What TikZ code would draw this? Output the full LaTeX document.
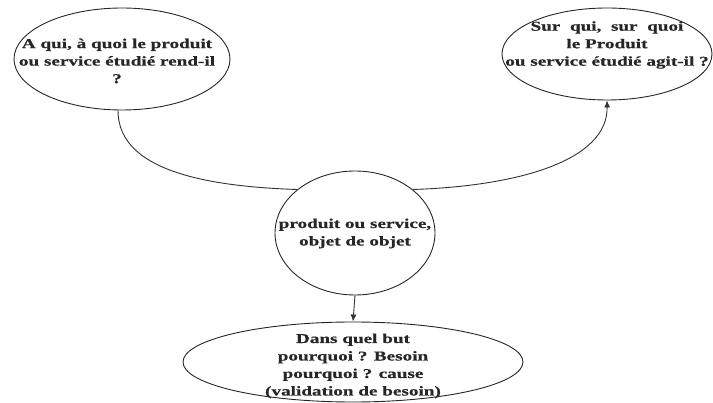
\documentclass[tikz,border=0pt]{standalone}
\usepackage{fontspec}
\setmainfont{Liberation Serif}
\newfontfamily\widebold[FakeStretch=1.42,FakeBold=0.6]{Liberation Serif Bold}
\usetikzlibrary{shapes.geometric,arrows.meta}
\begin{document}
\begin{tikzpicture}[x=1pt,y=-1pt,
  bubble/.style={draw=black!85, line width=0.9pt, ellipse, inner sep=0pt},
  lbl/.style={align=center, font=\fontsize{13.5}{17.5}\widebold, text=black!85, inner sep=0pt},
  conn/.style={draw=black!80, line width=0.9pt},
  tip/.style={-{Latex[length=7pt,width=6pt]}}]
\useasboundingbox (0,0) rectangle (713,403);
\node[bubble, minimum width=216pt, minimum height=102pt] (L) at (122,59) {};
\node[lbl] (Lt) at (117,61) {A qui, à quoi le produit\\ou service étudié rend-il\\?};
\node[bubble, minimum width=210pt, minimum height=92pt] (R) at (607,54) {};
\node[lbl] (Rt) at (607,45) {Sur\ \ qui,\ \ sur\ \ quoi\\le Produit\\ou service étudié agit-il ?};
\node[bubble, minimum width=160pt, minimum height=124pt] (C) at (355,233) {};
\node[lbl] (Ct) at (355,233.5) {produit ou service,\\objet de objet};
\node[bubble, minimum width=340pt, minimum height=80pt] (B) at (353,362) {};
\node[lbl] (Bt) at (353,366) {Dans quel but\\pourquoi ? Besoin\\pourquoi ? cause\\(validation de besoin)};
\draw[conn] ([xshift=-4pt]L.south) .. controls (118,165) and (190,186) .. (C.143);
\draw[conn,tip] (C.37) .. controls (520,186) and (608,160) .. (R.south);
\draw[conn,tip] (C.south) -- (B.north);
\end{tikzpicture}
\end{document}
